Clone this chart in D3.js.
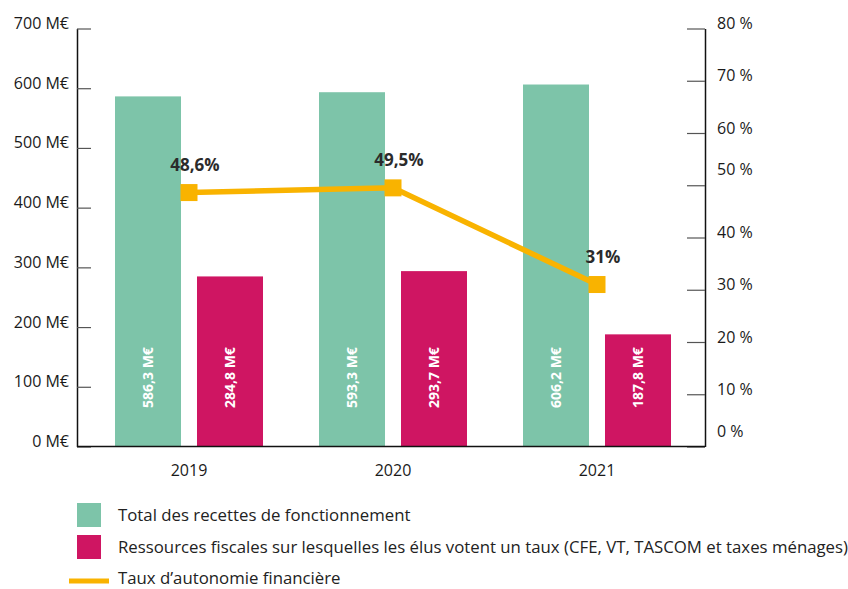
<!DOCTYPE html>
<html>
<head>
<meta charset="utf-8">
<script src="https://cdn.jsdelivr.net/npm/d3@7"></script>
<style>
  body { margin: 0; background: #fff; }
  svg { font-family: "Open Sans", sans-serif; }
</style>
</head>
<body>
<div id="chart"></div>
<script>
// data
var years = ["2019", "2020", "2021"];
var recettes = [586.3, 593.3, 606.2];   // Total des recettes de fonctionnement (M€)
var ressources = [284.8, 293.7, 187.8]; // Ressources fiscales (M€)
var taux = [48.6, 49.5, 31];            // Taux d'autonomie financière (%)
var leftTicks = [0, 100, 200, 300, 400, 500, 600, 700];
var rightTicks = [0, 10, 20, 30, 40, 50, 60, 70, 80];
var legendLabels = [
  "Total des recettes de fonctionnement",
  "Ressources fiscales sur lesquelles les élus votent un taux (CFE, VT, TASCOM et taxes ménages)",
  "Taux d\u2019autonomie financière"
];

var w = 848, h = 589;
var green = "#7dc4a9", pink = "#cf1562", orange = "#f9b300";
var fr = d3.formatLocale({decimal: ",", thousands: " ", grouping: [3], currency: ["", " €"]});
var fmt1 = fr.format(",.1f");

var svg = d3.select("#chart").append("svg")
  .attr("width", w)
  .attr("height", h);

var xLeft = 77, xRight = 705, yTop = 28.5, yBottom = 446.5;

var y = d3.scaleLinear().domain([0, 700]).range([yBottom, yTop]);
var yPct = d3.scaleLinear().domain([0, 80]).range([yBottom, yTop]);

var x0 = d3.scaleBand().domain(years).range([87, 699])
  .paddingInner(56 / 204).paddingOuter(28 / 204);
var x1 = d3.scaleBand().domain(["recettes", "ressources"])
  .range([0, x0.bandwidth()]).paddingInner(0.195);

var groups = years.map(function(yr, i) {
  return {year: yr, recettes: recettes[i], ressources: ressources[i], taux: taux[i]};
});

// bars
var bars = svg.append("g").attr("id", "bars");
["recettes", "ressources"].forEach(function(key) {
  bars.selectAll("rect." + key)
    .data(groups)
    .enter()
    .append("rect")
    .attr("class", key)
    .attr("x", function(d) { return x0(d.year) + x1(key); })
    .attr("y", function(d) { return y(d[key]); })
    .attr("width", x1.bandwidth())
    .attr("height", function(d) { return y(0) - y(d[key]); })
    .attr("fill", key == "recettes" ? green : pink);

  bars.selectAll("text." + key)
    .data(groups)
    .enter()
    .append("text")
    .attr("class", key)
    .attr("transform", function(d) {
      var cx = x0(d.year) + x1(key) + x1.bandwidth() / 2;
      return "translate(" + cx + "," + (y(0) - 38.5) + ") rotate(-90)";
    })
    .attr("dy", "0.36em")
    .attr("fill", "#fff")
    .attr("font-size", 14)
    .attr("font-weight", "bold")
    .text(function(d) { return fmt1(d[key]) + " M€"; });
});

// left axis
var yAxis = d3.axisLeft(y).tickValues(leftTicks)
  .tickSizeInner(-14).tickSizeOuter(0).tickPadding(8)
  .tickFormat(function(d) { return d + " M€"; });
var gy = svg.append("g").attr("transform", "translate(" + xLeft + ",0)").call(yAxis);
gy.select(".domain").attr("stroke", "#111").attr("stroke-width", 1.5);
gy.selectAll(".tick line").attr("stroke", "#555").attr("stroke-width", 1.2);
gy.selectAll(".tick text").attr("dy", 0).attr("font-size", 16).attr("fill", "#1a1a1a")
  .attr("font-family", "Open Sans");

// right axis
var nudge = {50: -11, 0: -10};
var yAxisR = d3.axisRight(yPct).tickValues(rightTicks)
  .tickSizeInner(-18).tickSizeOuter(0).tickPadding(12)
  .tickFormat(function(d) { return d + " %"; });
var gr = svg.append("g").attr("transform", "translate(" + xRight + ",0)").call(yAxisR);
gr.select(".domain").attr("stroke", "#111").attr("stroke-width", 1.5);
gr.selectAll(".tick line").attr("stroke", "#555").attr("stroke-width", 1.2);
gr.selectAll(".tick text").attr("dy", function(d) { return nudge[d] || 0; })
  .attr("font-size", 16).attr("fill", "#1a1a1a").attr("font-family", "Open Sans");

// baseline + years
var xAxis = d3.axisBottom(x0).tickSize(0).tickPadding(18);
var gx = svg.append("g").attr("transform", "translate(0," + yBottom + ")").call(xAxis);
gx.select(".domain").remove();
gx.selectAll(".tick text").attr("font-size", 16).attr("fill", "#1a1a1a")
  .attr("font-family", "Open Sans");
svg.append("line")
  .attr("x1", xLeft).attr("x2", xRight)
  .attr("y1", yBottom).attr("y2", yBottom)
  .attr("stroke", "#111").attr("stroke-width", 1.5);

// taux line
var cx = function(d) { return x0(d.year) + x0.bandwidth() / 2; };
var line = d3.line().x(cx).y(function(d) { return yPct(d.taux); });
svg.append("path")
  .datum(groups)
  .attr("d", line)
  .attr("fill", "none")
  .attr("stroke", orange)
  .attr("stroke-width", 5.5);

svg.selectAll("rect.marker")
  .data(groups)
  .enter()
  .append("rect")
  .attr("class", "marker")
  .attr("x", function(d) { return cx(d) - 8.5; })
  .attr("y", function(d) { return yPct(d.taux) - 8.5; })
  .attr("width", 17)
  .attr("height", 17)
  .attr("fill", orange);

svg.selectAll("text.pct")
  .data(groups)
  .enter()
  .append("text")
  .attr("class", "pct")
  .attr("x", function(d) { return cx(d) + 6; })
  .attr("y", function(d) { return yPct(d.taux) - 22; })
  .attr("text-anchor", "middle")
  .attr("font-size", 17)
  .attr("font-weight", "bold")
  .attr("fill", "#2b2b2b")
  .text(function(d) { return String(d.taux).replace(".", ",") + "%"; });

// legend
var legend = svg.append("g").attr("id", "legend");
var legendY = [515, 547, 578];
legend.append("rect").attr("x", 77).attr("y", legendY[0] - 12).attr("width", 24).attr("height", 24).attr("fill", green);
legend.append("rect").attr("x", 77).attr("y", legendY[1] - 12).attr("width", 24).attr("height", 24).attr("fill", pink);
legend.append("line").attr("x1", 69).attr("x2", 109).attr("y1", legendY[2] + 3).attr("y2", legendY[2] + 3)
  .attr("stroke", orange).attr("stroke-width", 5);
legend.selectAll("text")
  .data(legendLabels)
  .enter()
  .append("text")
  .attr("x", 118)
  .attr("y", function(d, i) { return legendY[i]; })
  .attr("dy", "0.36em")
  .attr("font-size", 16.8)
  .attr("fill", "#222")
  .text(function(d) { return d; });
</script>
</body>
</html>
